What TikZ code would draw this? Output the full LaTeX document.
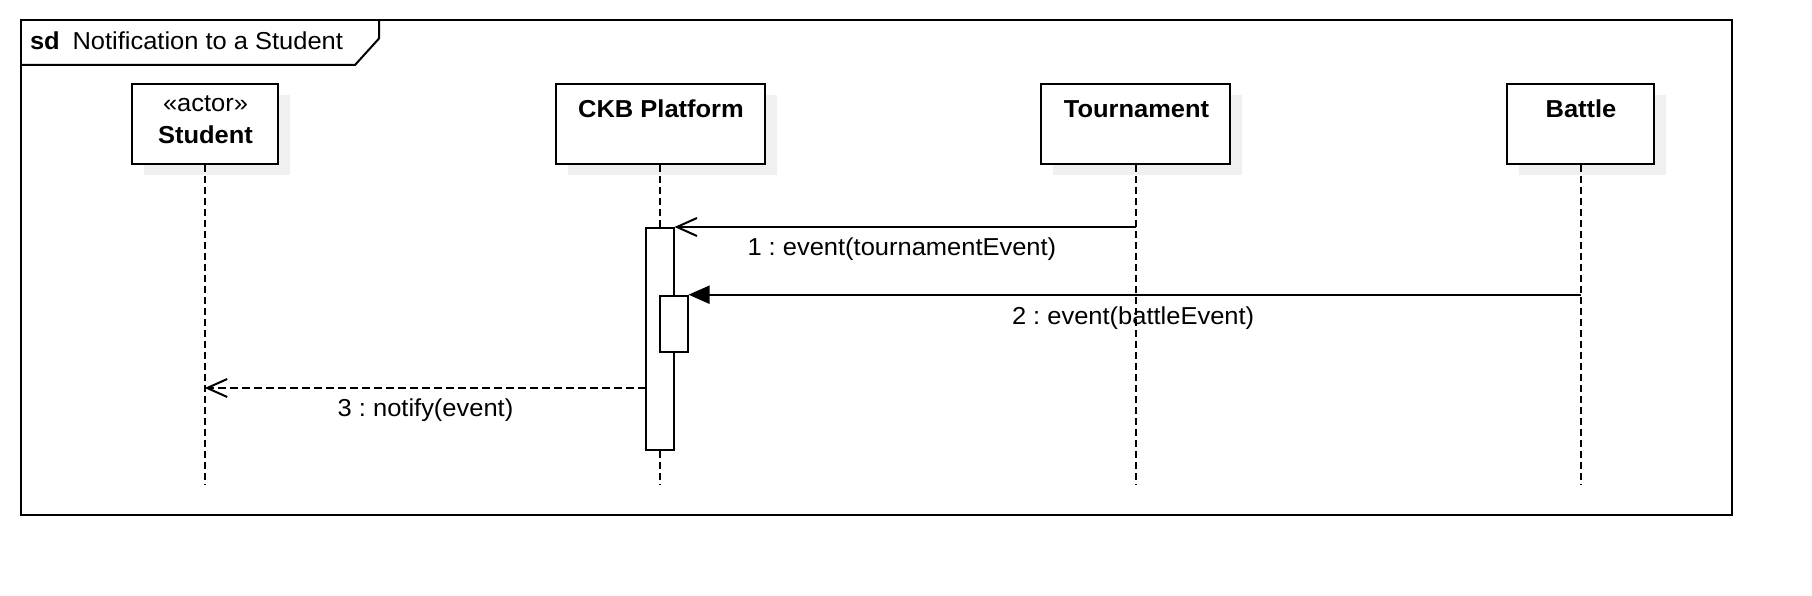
\documentclass[tikz,border=0pt]{standalone}
\usepackage{fontspec}
\setmainfont{Liberation Sans}[FakeStretch=1.04]
\usetikzlibrary{arrows.meta}
\frenchspacing
\begin{document}
\begin{tikzpicture}[x=1pt,y=-1pt,
  font=\fontsize{24.5}{29}\selectfont,
  line width=2pt,
  objbox/.style={draw, fill=white, inner sep=0pt, minimum width=#1, minimum height=80pt},
  shadowbox/.style={fill=black!6, draw=none, inner sep=0pt, minimum width=#1, minimum height=80pt},
  actbox/.style={draw, fill=white, inner sep=0pt, minimum width=27.5pt, minimum height=#1},
  lifeline/.style={dash pattern=on 7pt off 4pt},
  title/.style={anchor=base, font=\fontsize{24.5}{29}\selectfont\bfseries},
  lbl/.style={anchor=base west, inner sep=0pt},
  syncmsg/.style={-{Triangle[length=21pt,width=18pt]}},
  replymsg/.style={-{Straight Barb[length=20pt,width=18pt]}}
]
\useasboundingbox (0,0) rectangle (1812,596);
\fill[white] (0,0) rectangle (1812,596);

% frame
\draw (20.5,20) rectangle (1731.5,515);
\draw (20.5,65) -- (355,65) -- (379,38.5) -- (379,20);
\node[lbl, font=\fontsize{24.5}{29}\selectfont\bfseries] (sd) at (29,50) {sd};
\node[lbl] (frametitle) at (71.5,50) {Notification to a Student};

% shadows
\node[shadowbox=145.5pt] (studentsh) at (216.75,135) {};
\node[shadowbox=209.2pt] (ckbsh) at (672.2,135) {};
\node[shadowbox=189pt] (toursh) at (1147.9,135) {};
\node[shadowbox=146.4pt] (battlesh) at (1592.5,135) {};

% object boxes
\node[objbox=145.5pt] (student) at (204.75,124) {};
\node[objbox=209.2pt] (ckb) at (660.2,124) {};
\node[objbox=189pt] (tour) at (1135.9,124) {};
\node[objbox=146.4pt] (battle) at (1580.5,124) {};

\node[anchor=base] (stereo) at (205.5,111.7) {«actor»};
\node[title] (studentname) at (205.5,143.3) {Student};
\node[title] (ckbname) at (661,117.5) {CKB Platform};
\node[title] (tourname) at (1136.5,117.5) {Tournament};
\node[title] (battlename) at (1581,117.5) {Battle};

% lifelines
\coordinate (lifeend) at (0,484.5);
\draw[lifeline] (student.south) -- (student.south |- lifeend);
\draw[lifeline] (ckb.south) -- (ckb.south |- lifeend);
\draw[lifeline] (tour.south) -- (tour.south |- lifeend);
\draw[lifeline] (battle.south) -- (battle.south |- lifeend);

% activations
\node[actbox=221.5pt] (act1) at (659.75,338.75) {};
\node[actbox=56.3pt] (act2) at (673.75,323.85) {};

% messages
\draw[replymsg] (tour.south |- act1.north) -- (act1.north east);
\node[lbl] (m1lbl) at (746.5,255) {1 : event(tournamentEvent)};

\draw[syncmsg] (battle.south |- act2.north) -- (act2.north east);
\node[lbl] (m2lbl) at (1011,324.3) {2 : event(battleEvent)};

\coordinate (m3start) at (646,388);
\draw[replymsg, dash pattern=on 8pt off 4pt] (m3start) -- (student.south |- m3start);
\node[lbl] (m3lbl) at (336.7,416.7) {3 : notify(event)};
\end{tikzpicture}
\end{document}
